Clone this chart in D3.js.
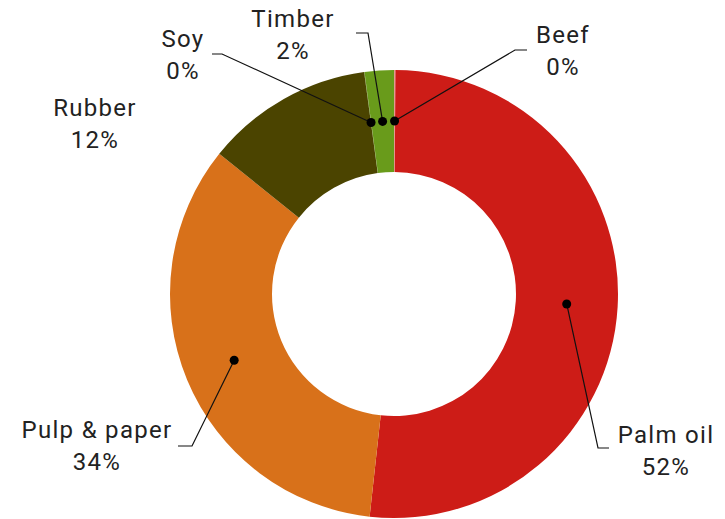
<!DOCTYPE html>
<html>
<head>
<meta charset="utf-8">
<script src="https://cdn.jsdelivr.net/npm/d3@7/dist/d3.min.js"></script>
<style>
  html, body { margin: 0; padding: 0; background: #fff; }
  svg { display: block; }
  text { font-family: Roboto, "Noto Sans", sans-serif; fill: #222; }
</style>
</head>
<body>
<svg id="chart" width="725" height="519"></svg>
<script>
// Commodity shares (percent), in drawing order clockwise from 12 o'clock
const commodities = ["Beef", "Palm oil", "Pulp & paper", "Rubber", "Soy", "Timber"];
const shares      = [0.1, 51.6, 34.0, 12.1, 0.03, 2.1];
const colors      = ["#e49a92", "#cd1c17", "#d8711a", "#4b4400", "#5a6e10", "#699b1b"];

// Label placement: text centre, first baseline, and the elbow of the leader line
const labelLayout = {
  "Beef":         { x: 563, y: 43,  elbow: [515, 50],  end: [527, 50] },
  "Palm oil":     { x: 666, y: 443, elbow: [598, 448], end: [609, 448] },
  "Pulp & paper": { x: 97,  y: 438, elbow: [192, 446], end: [178, 446] },
  "Rubber":       { x: 95,  y: 116, elbow: null,       end: null },
  "Soy":          { x: 183, y: 47,  elbow: [222, 54],  end: [212, 54] },
  "Timber":       { x: 293, y: 27,  elbow: [368, 33],  end: [356, 33] }
};

const svg = d3.select("#chart");
const cx = 394, cy = 294;
const outerR = 224, innerR = 122;

const data = commodities.map((name, i) => ({ name, value: shares[i], color: colors[i] }));
const total = d3.sum(shares);

const pie = d3.pie().value(d => d.value).sort(null);
const arcs = pie(data);

const arc = d3.arc().innerRadius(innerR).outerRadius(outerR);
const midArc = d3.arc().innerRadius((innerR + outerR) / 2).outerRadius((innerR + outerR) / 2);

const g = svg.append("g").attr("transform", `translate(${cx},${cy})`);

g.selectAll("path.slice")
  .data(arcs)
  .join("path")
  .attr("class", "slice")
  .attr("d", arc)
  .attr("fill", d => d.data.color);

// Leader lines and dots
const lg = svg.append("g");
arcs.forEach(a => {
  const lay = labelLayout[a.data.name];
  if (!lay.elbow) return;
  const c = midArc.centroid(a);
  const p = [cx + c[0], cy + c[1]];
  lg.append("polyline")
    .attr("points", [p, lay.elbow, lay.end].map(q => q.join(",")).join(" "))
    .attr("fill", "none")
    .attr("stroke", "#111")
    .attr("stroke-width", 1.2);
  lg.append("circle")
    .attr("cx", p[0]).attr("cy", p[1])
    .attr("r", 4.5)
    .attr("fill", "#000");
});

// Labels: name and rounded percentage
const tg = svg.append("g");
arcs.forEach(a => {
  const lay = labelLayout[a.data.name];
  const t = tg.append("text")
    .attr("text-anchor", "middle")
    .attr("font-size", 24)
    .attr("letter-spacing", 1.3)
    .attr("x", lay.x).attr("y", lay.y);
  t.append("tspan").attr("x", lay.x).text(a.data.name);
  t.append("tspan").attr("x", lay.x).attr("dy", 31.5)
    .text(Math.round(a.data.value / total * 100) + "%");
});
</script>
</body>
</html>
